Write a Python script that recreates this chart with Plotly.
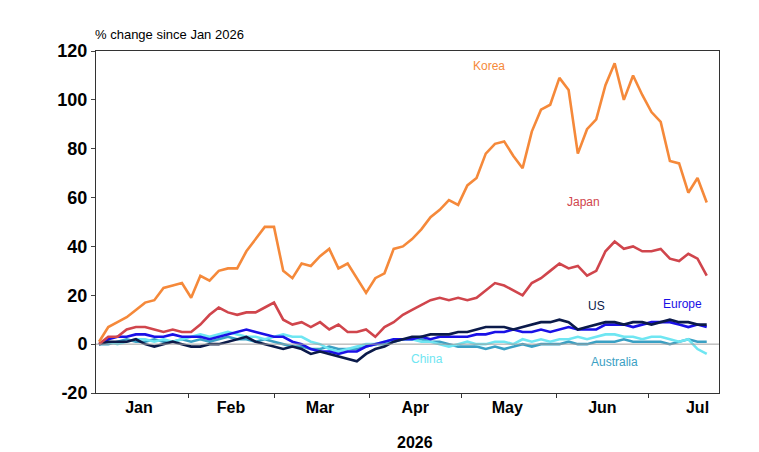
import plotly.graph_objects as go
import pandas as pd

days = list(range(2, 201, 3))
korea = [1,7,9,11,14,17,18,23,24,25,19,28,26,30,31,31,38,43,48,48,30,27,33,32,36,39,31,33,27,21,27,29,39,40,43,47,52,55,59,57,65,68,78,82,83,77,72,87,96,98,109,104,78,88,92,106,115,100,110,102,95,91,75,74,62,68,58]
japan = [0,3,3,6,7,7,6,5,6,5,5,8,12,15,13,12,13,13,15,17,10,8,9,7,9,6,8,5,5,6,3,7,9,12,14,16,18,19,18,19,18,19,22,25,24,22,20,25,27,30,33,31,32,28,30,38,42,39,40,38,38,39,35,34,37,35,28]
us = [0,1,1,1,2,0,-1,0,1,0,-1,-1,0,0,1,2,3,1,0,-1,-2,-1,-2,-4,-3,-4,-5,-6,-7,-4,-2,-1,1,2,3,3,4,4,4,5,5,6,7,7,7,6,7,8,9,9,10,9,6,7,8,9,9,8,9,9,8,9,10,9,9,8,8]
europe = [0,2,3,3,4,4,3,3,4,3,3,3,2,3,4,5,6,5,4,3,3,1,0,-2,-3,-3,-4,-3,-3,-1,0,1,2,2,2,3,2,3,3,3,3,4,4,5,5,6,5,5,6,5,6,7,6,6,6,8,8,8,7,8,9,9,9,8,7,8,7]
china = [0,1,0,1,2,2,1,2,1,2,3,4,3,4,5,4,3,3,2,3,4,3,3,1,0,-2,-3,-2,-1,0,0,1,2,2,2,1,1,0,-1,0,1,0,0,1,1,0,2,1,2,1,2,2,3,2,3,4,4,3,3,2,3,3,2,1,2,-2,-4]
australia = [0,0,1,2,1,1,2,1,1,2,1,2,1,2,3,2,2,1,2,1,0,-1,-1,-2,-2,-1,-2,-2,-2,-1,0,0,1,2,2,2,1,1,0,-1,-1,-1,-2,-1,-2,-1,0,-1,0,0,0,1,0,0,1,1,1,2,1,1,1,1,0,1,2,1,1]

dates = [pd.Timestamp("2026-01-01") + pd.Timedelta(days=d) for d in days]

series = [
    ("Australia", australia, "#3aa0c4", "2026-06-20", -7.5),
    ("China", china, "#6fe6f2", "2026-04-20", -6),
    ("Europe", europe, "#1a10e6", "2026-07-12", 16.5),
    ("US", us, "#0b1a4a", "2026-06-14", 15.5),
    ("Japan", japan, "#d0454c", "2026-06-10", 58),
    ("Korea", korea, "#f5893a", "2026-05-10", 114),
]

fig = go.Figure()
for name, vals, col, lx, ly in series:
    fig.add_trace(go.Scatter(x=dates, y=vals, mode="lines", name=name,
                             line=dict(color=col, width=2.6)))
    fig.add_annotation(x=lx, y=ly, text=name, showarrow=False,
                       font=dict(color=col, size=12, family="Arial"))

fig.add_hline(y=0, line=dict(color="#a0a0a0", width=1))

mid = ["2026-01-16", "2026-02-15", "2026-03-16", "2026-04-16", "2026-05-16", "2026-06-16", "2026-07-17"]
labels = ["Jan", "Feb", "Mar", "Apr", "May", "Jun", "Jul"]
yvals = [-20, 0, 20, 40, 60, 80, 100, 120]

fig.update_layout(
    width=759, height=452, showlegend=False,
    paper_bgcolor="white", plot_bgcolor="white",
    margin=dict(l=88, r=48, t=43, b=67),
    font=dict(family="Arial", color="black"),
    xaxis=dict(range=["2026-01-02", "2026-07-24"], tickvals=mid,
               ticktext=["<b>%s</b>" % t for t in labels], automargin=False,
               ticks="", showgrid=False, showline=True, linecolor="#333", mirror=True,
               tickfont=dict(size=16, family="Arial", color="black"),
               minor=dict(ticks="outside", dtick="M1", tick0="2026-01-01", ticklen=4, tickcolor="#333")),
    yaxis=dict(range=[-20, 120], tickvals=yvals, ticktext=["<b>%d</b>" % v for v in yvals],
               showgrid=False, zeroline=False, automargin=False,
               showline=True, linecolor="#333", mirror=True, ticks="outside", ticklen=4,
               tickfont=dict(size=18, family="Arial", color="black")),
)
fig.add_annotation(x="2026-04-16", y=-0.145, yref="paper", text="<b>2026</b>", showarrow=False,
                   yanchor="middle", font=dict(size=16, family="Arial"))
fig.add_annotation(x=-0.005, y=1.02, xref="paper", yref="paper", xanchor="left", yanchor="bottom",
                   text="% change since Jan 2026", showarrow=False, font=dict(size=13, family="Arial"))
fig.write_html("out.html")
